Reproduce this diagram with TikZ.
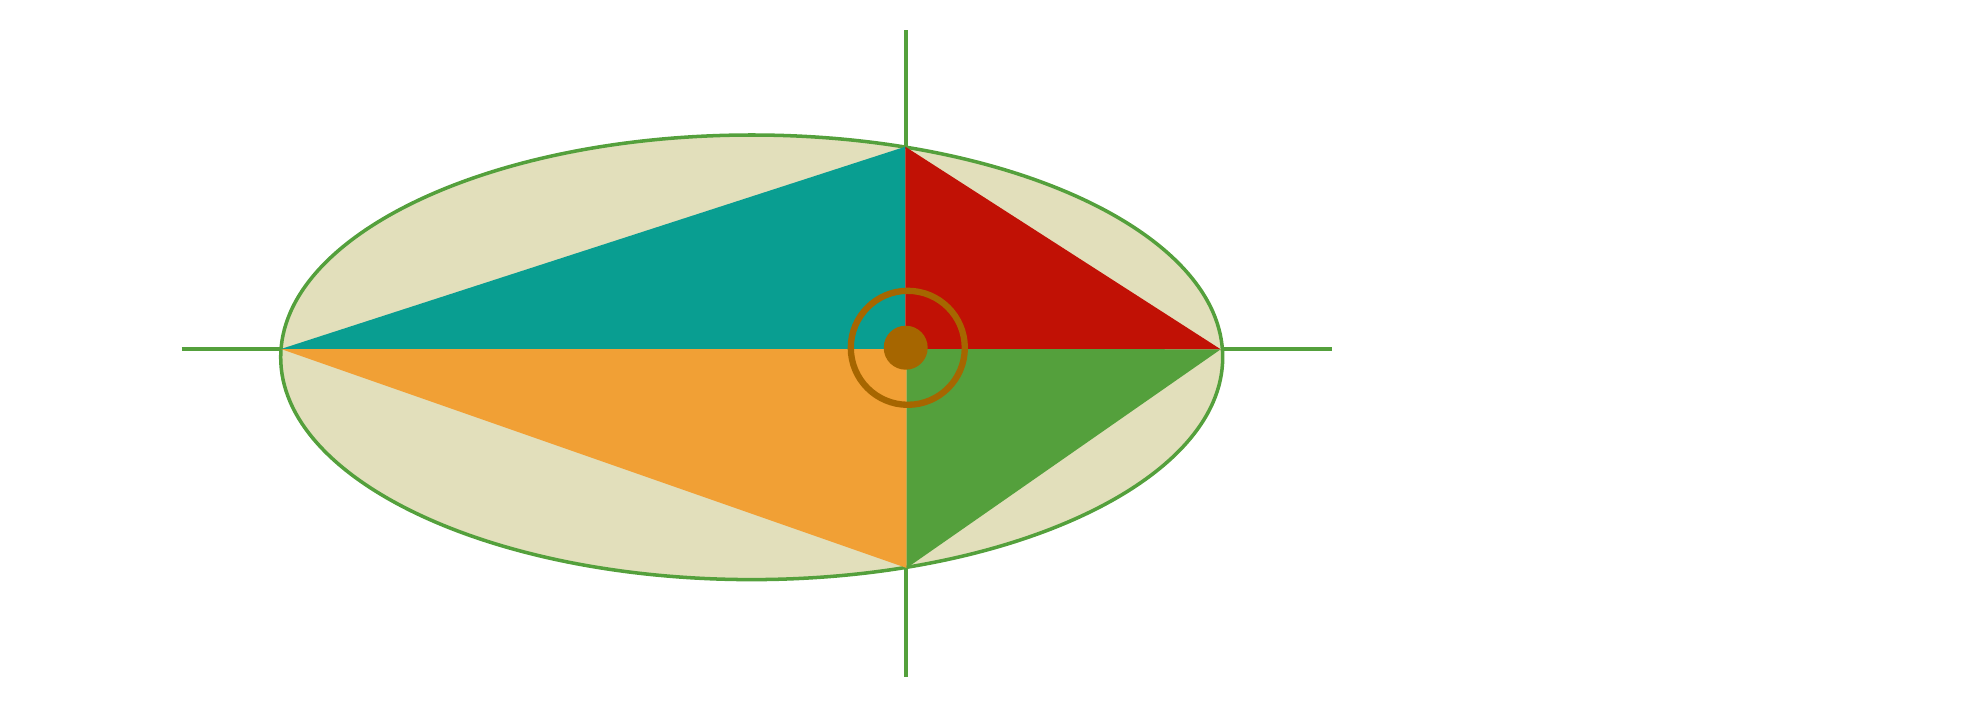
\documentclass[tikz,border=0pt]{standalone}
\definecolor{axisgreen}{RGB}{84,160,60}
\definecolor{beige}{RGB}{226,223,187}
\definecolor{tealc}{RGB}{9,158,145}
\definecolor{redc}{RGB}{193,17,5}
\definecolor{orangec}{RGB}{241,160,53}
\definecolor{greenc}{RGB}{84,160,60}
\definecolor{brownc}{RGB}{166,102,0}
\tikzset{
  axisline/.style={draw=axisgreen, line width=1.22pt},
  outline/.style={fill=beige, draw=axisgreen, line width=1pt},
  ringstyle/.style={draw=brownc, line width=1.8pt},
}
\begin{document}
\begin{tikzpicture}[x=0.01cm,y=-0.01cm]
\useasboundingbox (0,0) rectangle (1969,718);
% axes
\coordinate (hl) at (181.7,348.7);
\coordinate (hr) at (1331.7,348.7);
\coordinate (vt) at (906.3,30);
\coordinate (vb) at (906.3,677.3);
\draw[axisline] (hl) -- (hr);
\draw[axisline] (vt) -- (vb);
% ellipse
\coordinate (E) at (751.7,357.3);
\path[outline] (E) ellipse [x radius=471, y radius=222.3];
% vertices
\coordinate (L) at (281,349);
\coordinate (T) at (905.3,146.7);
\coordinate (R) at (1220.7,349.3);
\coordinate (B) at (906.7,568);
\coordinate (C1) at (905.3,349);
\coordinate (C2) at (906.7,349);
% triangles
\fill[tealc] (L) -- (T) -- (C1) -- cycle;
\fill[redc] (T) -- (R) -- (C1) -- cycle;
\fill[orangec] (L) -- (C2) -- (B) -- cycle;
\fill[greenc] (C2) -- (R) -- (B) -- cycle;
% ring and dot
\coordinate (O) at (907.8,347.8);
\coordinate (D) at (905.7,347.7);
\draw[ringstyle] (O) circle [radius=57];
\fill[brownc] (D) circle [radius=22];
\end{tikzpicture}
\end{document}
